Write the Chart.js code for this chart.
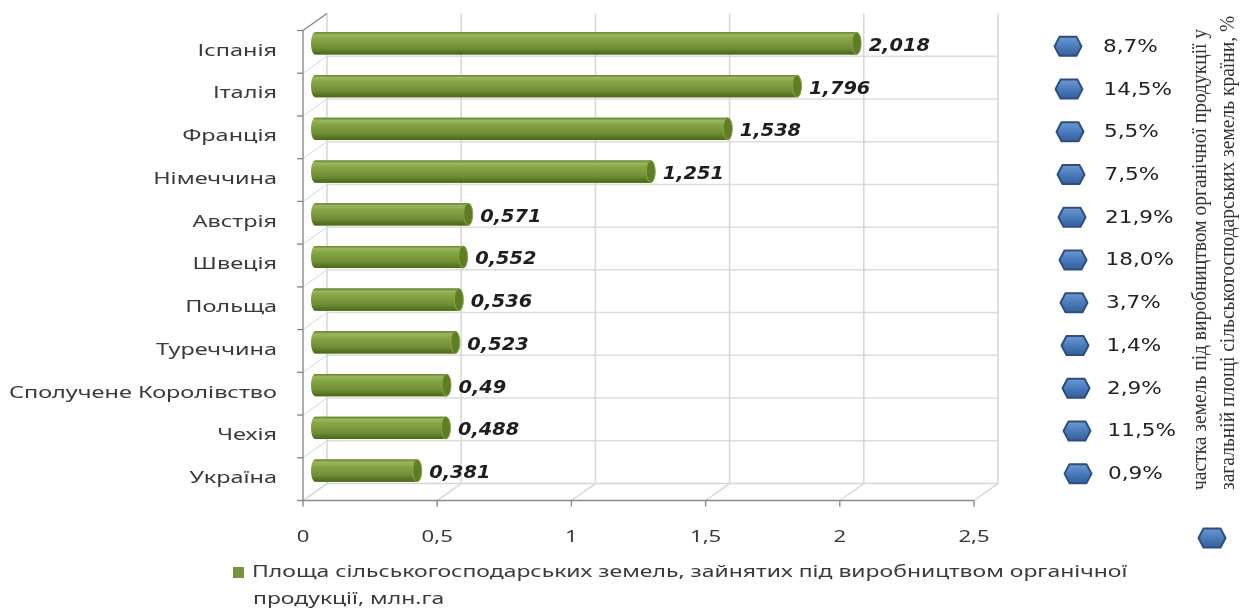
<!DOCTYPE html>
<html>
<head>
<meta charset="utf-8">
<script src="https://cdn.jsdelivr.net/npm/chart.js@4"></script>
<style>
  html, body { margin: 0; padding: 0; background: #fff; }
</style>
</head>
<body>
<canvas id="canvas" width="1242" height="613"></canvas>
<script>
const countries = ['Іспанія', 'Італія', 'Франція', 'Німеччина', 'Австрія', 'Швеція', 'Польща', 'Туреччина', 'Сполучене Королівство', 'Чехія', 'Україна'];
const areaMha = [2.018, 1.796, 1.538, 1.251, 0.571, 0.552, 0.536, 0.523, 0.49, 0.488, 0.381];
const sharePct = [8.7, 14.5, 5.5, 7.5, 21.9, 18.0, 3.7, 1.4, 2.9, 11.5, 0.9];
const xTicks = [0, 0.5, 1, 1.5, 2, 2.5];
const areaTitle = ['Площа сільськогосподарських земель, зайнятих під виробництвом органічної', 'продукції, млн.га'];
const shareTitle = ['частка земель під виробництвом органічної продукції у', 'загальній площі сільськогосподарських земель країни, %'];

// depth offset of the fake 3d box (bars sit in the middle)
const DX = 12, DY = 8.5;
const fmt = v => String(v).replace('.', ',');

function stretchedText(ctx, txt, x, y, align, sx) {
  ctx.save();
  ctx.translate(x, y);
  ctx.scale(sx, 1);
  ctx.textAlign = align;
  ctx.fillText(txt, 0, 0);
  ctx.restore();
}

function hexagon(ctx, cx, cy, w, h) {
  const t = 5;
  ctx.beginPath();
  ctx.moveTo(cx - w / 2, cy);
  ctx.lineTo(cx - w / 2 + t, cy - h / 2);
  ctx.lineTo(cx + w / 2 - t, cy - h / 2);
  ctx.lineTo(cx + w / 2, cy);
  ctx.lineTo(cx + w / 2 - t, cy + h / 2);
  ctx.lineTo(cx - w / 2 + t, cy + h / 2);
  ctx.closePath();
  const g = ctx.createLinearGradient(0, cy - h / 2, 0, cy + h / 2);
  g.addColorStop(0, '#6f9ad2');
  g.addColorStop(0.5, '#4a7bbb');
  g.addColorStop(1, '#36609a');
  ctx.fillStyle = g;
  ctx.lineJoin = 'round';
  ctx.fill();
  ctx.strokeStyle = '#2c4f80';
  ctx.lineWidth = 2;
  ctx.stroke();
}

const boxPlugin = {
  id: 'box3d',
  beforeDatasetsDraw(chart) {
    const ctx = chart.ctx;
    const xs = chart.scales.x;
    const top = chart.chartArea.top, bottom = chart.chartArea.bottom;
    const n = countries.length;
    const band = (bottom - top) / n;
    ctx.save();
    // back wall horizontal lines at category borders
    ctx.strokeStyle = '#dcdcdc';
    ctx.lineWidth = 1.5;
    for (let i = 1; i < n; i++) {
      const yy = top + band * i - DY;
      ctx.beginPath();
      ctx.moveTo(xs.getPixelForValue(0) + DX, yy);
      ctx.lineTo(xs.getPixelForValue(2.5) + DX, yy);
      ctx.stroke();
    }
    // vertical gridlines on back wall + floor diagonals
    xTicks.forEach(v => {
      const px = xs.getPixelForValue(v);
      ctx.strokeStyle = '#d6d6d6';
      ctx.beginPath();
      ctx.moveTo(px + DX, top - DY);
      ctx.lineTo(px + DX, bottom - DY);
      ctx.lineTo(px - DX, bottom + DY);
      ctx.stroke();
    });
    // floor back edge
    ctx.beginPath();
    ctx.moveTo(xs.getPixelForValue(0) + DX, bottom - DY);
    ctx.lineTo(xs.getPixelForValue(2.5) + DX, bottom - DY);
    ctx.stroke();
    // left wall diagonals
    ctx.strokeStyle = '#cdd6e6';
    ctx.lineWidth = 1;
    for (let i = 0; i <= n; i++) {
      const yy = top + band * i;
      ctx.beginPath();
      ctx.moveTo(xs.getPixelForValue(0) - DX, yy + DY);
      ctx.lineTo(xs.getPixelForValue(0) + DX, yy - DY);
      ctx.stroke();
    }
    // front axes
    const x0 = xs.getPixelForValue(0) - DX;
    ctx.strokeStyle = '#8a8a8a';
    ctx.lineWidth = 1.4;
    ctx.beginPath();
    ctx.moveTo(x0, top + DY);
    ctx.lineTo(x0, bottom + DY);
    ctx.lineTo(xs.getPixelForValue(2.5) - DX, bottom + DY);
    ctx.stroke();
    ctx.beginPath();
    ctx.moveTo(x0, top + DY);
    ctx.lineTo(x0 + 2 * DX, top - DY);
    ctx.stroke();
    for (let i = 0; i <= n; i++) {
      const yy = top + band * i + DY;
      ctx.beginPath();
      ctx.moveTo(x0 - 6, yy);
      ctx.lineTo(x0, yy);
      ctx.stroke();
    }
    xTicks.forEach(v => {
      const px = xs.getPixelForValue(v) - DX;
      ctx.beginPath();
      ctx.moveTo(px, bottom + DY);
      ctx.lineTo(px, bottom + DY + 6);
      ctx.stroke();
    });
    ctx.restore();
  },
  afterDatasetsDraw(chart) {
    const ctx = chart.ctx;
    const xs = chart.scales.x, ys = chart.scales.y;
    const bottom = chart.chartArea.bottom;
    const meta = chart.getDatasetMeta(0);
    ctx.save();
    // cylinder shading
    meta.data.forEach((bar, i) => {
      const p = bar.getProps(['x', 'y', 'base', 'height'], true);
      const t = p.y - p.height / 2, h = p.height;
      const g = ctx.createLinearGradient(0, t, 0, t + h);
      g.addColorStop(0, '#62802a');
      g.addColorStop(0.12, '#9bb860');
      g.addColorStop(0.3, '#86a545');
      g.addColorStop(0.7, '#718f36');
      g.addColorStop(1, '#4b6619');
      ctx.fillStyle = g;
      ctx.beginPath();
      ctx.moveTo(p.base, t);
      ctx.lineTo(p.x, t);
      ctx.lineTo(p.x, t + h);
      ctx.lineTo(p.base, t + h);
      ctx.ellipse(p.base, p.y, 4, h / 2, 0, Math.PI / 2, Math.PI * 1.5);
      ctx.fill();
      ctx.beginPath();
      ctx.ellipse(p.x, p.y, 4.5, h / 2, 0, 0, Math.PI * 2);
      ctx.fillStyle = '#5f7d25';
      ctx.fill();
      ctx.strokeStyle = '#86a545';
      ctx.lineWidth = 1;
      ctx.stroke();
      // value label
      ctx.save();
      ctx.font = 'italic bold 17px "DejaVu Sans"';
      ctx.textBaseline = 'middle';
      ctx.fillStyle = '#1e1e1e';
      ctx.shadowColor = 'rgba(255,255,255,0.95)';
      ctx.shadowBlur = 4;
      stretchedText(ctx, fmt(areaMha[i]), p.x + 12, p.y + 3, 'left', 1.14);
      ctx.restore();
    });

    // category labels
    ctx.font = '17px "Noto Sans"';
    ctx.fillStyle = '#3a3a3a';
    ctx.textBaseline = 'middle';
    countries.forEach((c, i) => {
      stretchedText(ctx, c, xs.getPixelForValue(0) - DX - 26, ys.getPixelForValue(i) + DY - 1, 'right', 1.38);
    });
    // x tick labels
    xTicks.forEach(v => {
      stretchedText(ctx, fmt(v), xs.getPixelForValue(v) - DX, bottom + DY + 37, 'center', 1.3);
    });

    // share column
    sharePct.forEach((s, i) => {
      const cy = ys.getPixelForValue(i) + 3;
      hexagon(ctx, 1068 + i, cy, 27, 19);
      ctx.font = '17px "DejaVu Sans"';
      ctx.fillStyle = '#222';
      stretchedText(ctx, fmt(s.toFixed(1)) + '%', 1103 + i * 0.5, cy + 1, 'left', 1.27);
    });

    // rotated title of share series
    ctx.font = '19.5px "Liberation Sans Narrow"';
    ctx.fillStyle = '#333';
    [1201, 1229].forEach((cx, k) => {
      ctx.save();
      ctx.translate(cx, 490);
      ctx.rotate(-Math.PI / 2);
      ctx.scale(1, 1.05);
      ctx.textAlign = 'left';
      ctx.textBaseline = 'middle';
      ctx.fillText(shareTitle[k], 0, 0);
      ctx.restore();
    });
    hexagon(ctx, 1212, 538, 27, 19);

    // legend for area series
    ctx.fillStyle = '#77933c';
    ctx.fillRect(233, 567, 11, 11);
    ctx.font = '17px "Noto Sans"';
    ctx.fillStyle = '#3a3a3a';
    stretchedText(ctx, areaTitle[0], 252, 572, 'left', 1.35);
    stretchedText(ctx, areaTitle[1], 253, 599, 'left', 1.35);
    ctx.restore();
  }
};

const ctx = document.getElementById('canvas').getContext('2d');
const myChart = new Chart(ctx, {
  type: 'bar',
  data: {
    labels: countries,
    datasets: [{
      label: areaTitle.join(' '),
      data: areaMha,
      backgroundColor: '#77933c',
      borderWidth: 0,
      barPercentage: 0.52,
      categoryPercentage: 1
    }]
  },
  options: {
    responsive: false,
    animation: false,
    indexAxis: 'y',
    layout: { padding: { left: 315, right: 256, top: 22, bottom: 121 } },
    plugins: { legend: { display: false }, tooltip: { enabled: false } },
    scales: {
      x: { display: false, min: 0, max: 2.5 },
      y: { display: false }
    }
  },
  plugins: [boxPlugin]
});
</script>
</body>
</html>
